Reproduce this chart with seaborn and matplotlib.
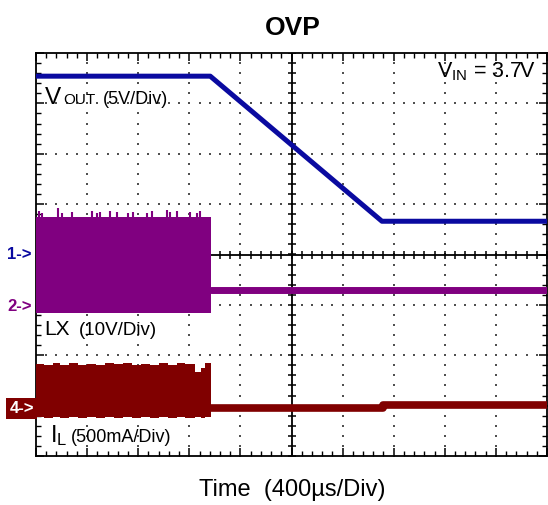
import numpy as np
import pandas as pd
import matplotlib
matplotlib.use("Agg")
import matplotlib.pyplot as plt
from matplotlib.ticker import MultipleLocator, NullFormatter
import seaborn as sns

# ---------------- data read from the scope capture ----------------
# time axis: 400 us / div, 10 divisions
# VOUT, channel 1, 5 V/div
vout_time_us = [0, 1364, 2708, 4000]
vout_v = [17.7, 17.7, 3.3, 3.3]

# LX, channel 2, 10 V/div : switching band, then idle level
lx_band_time_us = [0, 1368]
lx_band_high_v = [17.8, 17.8]
lx_band_low_v = [-1.2, -1.2]
lx_spike_time_us = [23, 47, 172, 204, 282, 438, 478, 501, 579, 634,
                    720, 759, 869, 908, 1025, 1049, 1104, 1205, 1260, 1284]
lx_spike_v = [19.0, 18.6, 19.6, 18.6, 18.8, 19.0, 18.6, 18.8, 19.0, 18.8,
              18.6, 18.8, 18.6, 19.0, 19.2, 18.8, 19.0, 18.8, 18.6, 19.0]
lx_idle_time_us = [1368, 4000]
lx_idle_v = [3.3, 3.3]

# IL, channel 4, 500 mA/div : switching band, then idle level
il_band_time_us = [0, 60, 130, 190, 260, 330, 400, 470, 540, 610, 680, 750,
                   820, 890, 960, 1030, 1100, 1170, 1245, 1290, 1323, 1368]
il_band_high_ma = [440, 425, 445, 430, 450, 430, 440, 425, 445, 435, 450, 430,
                   440, 425, 445, 430, 450, 440, 355, 400, 445, 445]
il_band_low_ma = [-90, -100, -85, -95, -90, -100, -85, -95, -90, -100, -85,
                  -95, -90, -100, -85, -95, -90, -100, -85, -95, -90, -90]
il_idle_time_us = [1368, 2716, 2716, 4000]
il_idle_ma = [0, 0, 30, 30]

# channel settings (units per division, marker offset in divisions)
vout_scale, lx_scale, il_scale = 5.0, 10.0, 500.0
vout_offset, lx_offset, il_offset = 0.0, -1.04, -3.05

BLUE = "#0a0aa0"
PURPLE = "#800080"
DRED = "#800000"

# ---------------- figure ----------------
sns.set_style("white")
plt.rcParams["font.family"] = ["Liberation Sans", "DejaVu Sans"]
plt.rcParams["text.color"] = "black"

fig = plt.figure(figsize=(5.48, 5.05), dpi=100)
ax = fig.add_axes([36 / 548, 49 / 505, 511 / 548, 403 / 505])
ax.set_xlim(0, 4000)
ax.set_ylim(-4, 4)

# dotted graticule
for gx in np.arange(400, 4000, 400):
    if gx == 2000:
        continue
    ys = np.arange(-4, 4.001, 0.2)
    ax.scatter(np.full_like(ys, gx), ys, s=1.3, marker="s", color="#505050",
               linewidths=0, zorder=1)
for gy in [-3, -2, -1, 1, 2, 3]:
    xs = np.arange(0, 4000.1, 80)
    ax.scatter(xs, np.full_like(xs, gy), s=1.3, marker="s", color="#505050",
               linewidths=0, zorder=1)

# center cross with ticks
ax.axhline(0, color="black", lw=1.3, zorder=1.5)
ax.axvline(2000, color="black", lw=1.3, zorder=1.5)
tx = np.arange(0, 4000.1, 80)
ax.scatter(tx, np.zeros_like(tx), marker="|", s=30, color="black", linewidths=1.1, zorder=1.5)
ty = np.arange(-4, 4.001, 0.2)
ax.scatter(np.full_like(ty, 2000), ty, marker="_", s=30, color="black", linewidths=1.1, zorder=1.5)

# edge ticks
ax.xaxis.set_major_locator(MultipleLocator(400))
ax.xaxis.set_minor_locator(MultipleLocator(80))
ax.yaxis.set_major_locator(MultipleLocator(1))
ax.yaxis.set_minor_locator(MultipleLocator(0.2))
ax.xaxis.set_major_formatter(NullFormatter())
ax.yaxis.set_major_formatter(NullFormatter())
ax.tick_params(which="both", direction="in", top=True, right=True,
               bottom=True, left=True, color="black")
ax.tick_params(which="major", length=6, width=1.1)
ax.tick_params(which="minor", length=3.5, width=1.0)
for s in ax.spines.values():
    s.set_color("black")
    s.set_linewidth(1.3)

# ---------------- traces ----------------
vout_df = pd.DataFrame({"t": vout_time_us,
                        "div": np.array(vout_v) / vout_scale + vout_offset})
sns.lineplot(data=vout_df, x="t", y="div", ax=ax, color=BLUE, lw=3.6,
             sort=False, estimator=None, zorder=3)

# LX
ax.fill_between(lx_band_time_us,
                np.array(lx_band_low_v) / lx_scale + lx_offset,
                np.array(lx_band_high_v) / lx_scale + lx_offset,
                color=PURPLE, lw=0, zorder=3)
ax.vlines(lx_spike_time_us, np.array(lx_band_high_v[0]) / lx_scale + lx_offset,
          np.array(lx_spike_v) / lx_scale + lx_offset, color=PURPLE, lw=1.5, zorder=3)
lx_df = pd.DataFrame({"t": lx_idle_time_us,
                      "div": np.array(lx_idle_v) / lx_scale + lx_offset})
sns.lineplot(data=lx_df, x="t", y="div", ax=ax, color=PURPLE, lw=5.0,
             sort=False, estimator=None, zorder=3)

# IL
ax.fill_between(il_band_time_us,
                np.array(il_band_low_ma) / il_scale + il_offset,
                np.array(il_band_high_ma) / il_scale + il_offset,
                step="post", color=DRED, lw=0, zorder=3)
il_df = pd.DataFrame({"t": il_idle_time_us,
                      "div": np.array(il_idle_ma) / il_scale + il_offset})
sns.lineplot(data=il_df, x="t", y="div", ax=ax, color=DRED, lw=5.5,
             sort=False, estimator=None, zorder=3)

ax.set_xlabel("")
ax.set_ylabel("")

# ---------------- labels ----------------
ax.text(70, 2.99, "V", fontsize=17.5, va="baseline", ha="left", zorder=5)
ax.text(211, 2.99, "OUT", fontsize=11, va="baseline", ha="left", zorder=5)
ax.text(520, 2.99, "(5V/Div)", fontsize=13, va="baseline", ha="left", zorder=5)

ax.text(63, -1.60, "LX", fontsize=15, va="baseline", ha="left", zorder=5)
ax.text(337, -1.60, "(10V/Div)", fontsize=13.5, va="baseline", ha="left", zorder=5)

ax.text(110, -3.72, r"$\mathregular{I_L}$", fontsize=17, va="baseline", ha="left", zorder=5)
ax.text(275, -3.72, "(500mA/Div)", fontsize=13, va="baseline", ha="left", zorder=5)

ax.text(3906, 3.52, r"$\mathregular{V_{IN}}$ = 3.7V", fontsize=15.5, va="baseline",
        ha="right", zorder=5)

# channel markers
trans = ax.get_yaxis_transform()
ax.annotate("1->", xy=(0, vout_offset), xycoords=trans, xytext=(-3, 0),
            textcoords="offset points", ha="right", va="center",
            fontsize=12, fontweight="bold", color=BLUE, annotation_clip=False)
ax.annotate("2->", xy=(0, lx_offset), xycoords=trans, xytext=(-3, 0),
            textcoords="offset points", ha="right", va="center",
            fontsize=12, fontweight="bold", color=PURPLE, annotation_clip=False)
ax.annotate("4->", xy=(0, il_offset), xycoords=trans, xytext=(-1.5, 0),
            textcoords="offset points", ha="right", va="center",
            fontsize=12, fontweight="bold", color="white", annotation_clip=False,
            bbox=dict(boxstyle="square,pad=0.18", fc=DRED, ec="none"))

fig.text(293 / 548, (505 - 35) / 505, "OVP", fontsize=19, fontweight="bold",
         ha="center", va="baseline", color="black")
fig.text(292 / 548, (505 - 496) / 505, "Time  (400µs/Div)", fontsize=17,
         ha="center", va="baseline", color="black")

fig.savefig("out.png", dpi=100, facecolor="white")
